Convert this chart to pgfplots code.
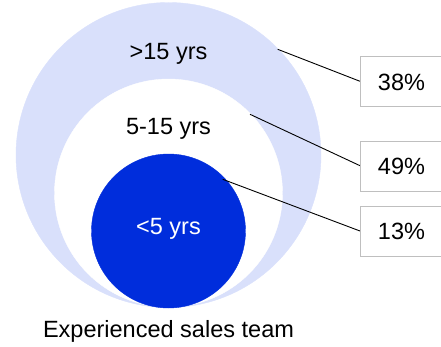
\documentclass[border=0pt]{standalone}
\usepackage{pgfplots}
\pgfplotsset{compat=1.18}
\usepackage{fontspec}
\setmainfont{Liberation Sans}
\definecolor{lav}{RGB}{217,224,251}
\definecolor{blu}{RGB}{0,45,220}
\definecolor{bgray}{RGB}{191,191,191}
\begin{document}
\fontsize{23.6}{28}\selectfont
\begin{tikzpicture}[font=\fontsize{23.6}{28}\selectfont]
\begin{axis}[
  width=441bp, height=347bp, scale only axis,
  xmin=0, xmax=441, ymin=0, ymax=347, y dir=reverse,
  hide axis, clip=true, clip marker paths=true,
]
% nested circles (centre x, centre y), radius as mark size
\addplot[only marks, mark=*, mark size=152.5bp, color=lav, mark options={draw=none, fill=lav}] coordinates {(168.5,155)};
\addplot[only marks, mark=*, mark size=114bp, color=white, mark options={draw=none, fill=white}] coordinates {(168.5,193)};
\addplot[only marks, mark=*, mark size=77bp, color=blu, mark options={draw=none, fill=blu}] coordinates {(168.5,231)};
% leader lines
\addplot[black, line width=0.9bp] coordinates {(277.7,49.3) (360,81.3)};
\addplot[black, line width=0.9bp] coordinates {(250,114.3) (360,165.7)};
\addplot[black, line width=0.9bp] coordinates {(222.7,179.3) (360,231)};
% boxes
\addplot[draw=bgray, fill=white, line width=1bp] coordinates {(360,56.7) (450,56.7) (450,106.7) (360,106.7)} -- cycle;
\addplot[draw=bgray, fill=white, line width=1bp] coordinates {(360,141.7) (450,141.7) (450,191) (360,191)} -- cycle;
\addplot[draw=bgray, fill=white, line width=1bp] coordinates {(360,206.7) (450,206.7) (450,256) (360,256)} -- cycle;
% labels
\node at (axis cs:168.5,54) {>15 yrs};
\node at (axis cs:168.5,129) {5-15 yrs};
\node[text=white] at (axis cs:168.5,229) {<5 yrs};
\node at (axis cs:401.5,82) {38\%};
\node at (axis cs:401.5,166.5) {49\%};
\node at (axis cs:401.5,231.5) {13\%};
\node at (axis cs:168.5,331) {Experienced sales team};
\end{axis}
\useasboundingbox (0,0) rectangle (441bp,347bp);
\end{tikzpicture}
\end{document}
